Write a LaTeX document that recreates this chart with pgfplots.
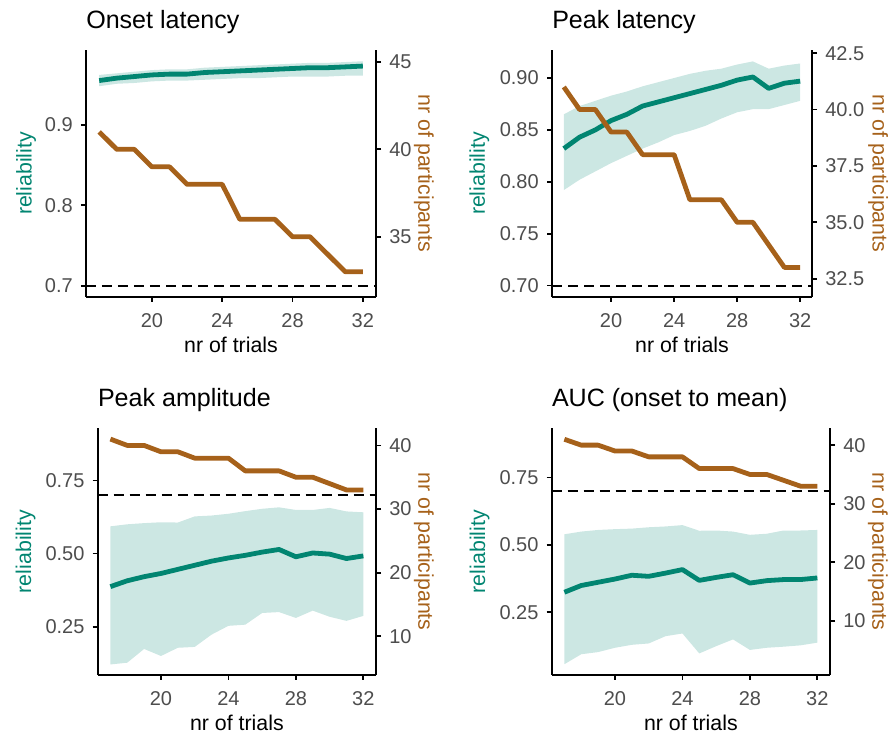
\documentclass[border=0pt]{standalone}
\usepackage{fontspec}
\setmainfont{Liberation Sans}
\usepackage{pgfplots}
\usepackage{pgfplotstable}
\pgfplotsset{compat=1.18}
\definecolor{relgreen}{HTML}{018571}
\definecolor{partorange}{HTML}{A6611A}
\definecolor{ticktext}{HTML}{4D4D4D}
\newcommand\tickfont{\fontsize{15}{15}\selectfont}
\newcommand\labfont{\fontsize{16}{16}\selectfont}
\newcommand\titfont{\fontsize{18.8}{18.8}\selectfont}

% x = nr of trials, rel = reliability, n = nr of participants
\pgfplotstableread{
x rel n
17 0.955 41
18 0.958 40
19 0.960 40
20 0.962 39
21 0.963 39
22 0.963 38
23 0.965 38
24 0.966 38
25 0.967 36
26 0.968 36
27 0.969 36
28 0.970 35
29 0.971 35
30 0.971 34
31 0.972 33
32 0.973 33
}\tabA
\pgfplotstableread{
x rel n
17 0.832 41
18 0.843 40
19 0.850 40
20 0.859 39
21 0.865 39
22 0.873 38
23 0.877 38
24 0.881 38
25 0.885 36
26 0.889 36
27 0.893 36
28 0.898 35
29 0.901 35
30 0.890 34
31 0.895 33
32 0.897 33
}\tabB
\pgfplotstableread{
x rel n
17 0.387 41
18 0.407 40
19 0.421 40
20 0.432 39
21 0.446 39
22 0.460 38
23 0.474 38
24 0.485 38
25 0.494 36
26 0.505 36
27 0.514 36
28 0.489 35
29 0.502 35
30 0.498 34
31 0.483 33
32 0.492 33
}\tabC
\pgfplotstableread{
x rel n
17 0.324 41
18 0.349 40
19 0.361 40
20 0.373 39
21 0.387 39
22 0.383 38
23 0.395 38
24 0.408 38
25 0.368 36
26 0.379 36
27 0.389 36
28 0.358 35
29 0.367 35
30 0.371 34
31 0.371 33
32 0.377 33
}\tabD

\pgfplotsset{
  common/.style={
    scale only axis, enlargelimits=false,
    xmin=16.25, xmax=32.75,
    axis line style={-, black, line width=1.5pt},
    tick style={black, line width=1.3pt},
    major tick length=3.75pt, tick align=outside,
    ticklabel style={font=\tickfont, text=ticktext},
  },
  mainax/.style={
    common, axis x line*=bottom, axis y line*=left,
    xtick={20,24,28,32}, xticklabels={20,24,28,32},
    xticklabel style={anchor=base, yshift=-19.5pt, inner sep=0pt},
    yticklabel style={anchor=east, inner sep=0pt, xshift=-6pt},
    xlabel={nr of trials}, ylabel={reliability},
    every axis title/.style={at={(0,1)}, anchor=base west, yshift=16.1pt, inner sep=0pt, font=\titfont},
    every axis x label/.style={at={(0.5,0)}, anchor=base, yshift=-42pt, inner sep=0pt, font=\labfont},
    every axis y label/.style={at={(0,0.5)}, xshift=-#1, rotate=90, anchor=base, inner sep=0pt, font=\labfont, text=relgreen},
  },
  secax/.style={
    common, axis x line*=bottom, axis y line*=right, xtick=\empty,
    yticklabel style={anchor=west, inner sep=0pt, xshift=6pt},
    ylabel={nr of participants},
    every axis y label/.style={at={(1,0.5)}, xshift=#1, rotate=-90, anchor=base, inner sep=0pt, font=\labfont, text=partorange},
  },
  rib/.style={fill=relgreen, fill opacity=0.2, draw=none},
  relline/.style={relgreen, line width=3.6pt, line join=round},
  nline/.style={partorange, line width=3.6pt, line join=round},
  hline/.style={black, line width=1.4pt, dash pattern=on 7.5pt off 4.5pt},
}

\begin{document}
\begin{tikzpicture}
\useasboundingbox (0,0) rectangle (667.5pt,551.25pt);

% ---------- Panel 1: Onset latency ----------
\begin{axis}[mainax=40.7pt, at={(64.5pt,328.5pt)}, width=217.5pt, height=185.25pt,
  ymin=0.686, ymax=0.993, ytick={0.7,0.8,0.9}, yticklabels={0.7,0.8,0.9},
  title={Onset latency}]
  \addplot[rib] coordinates {
    (17,0.962) (18,0.964) (19,0.966) (20,0.968) (21,0.969) (22,0.969) (23,0.971) (24,0.972)
    (25,0.973) (26,0.974) (27,0.975) (28,0.976) (29,0.977) (30,0.977) (31,0.978) (32,0.979)
    (32,0.961) (31,0.961) (30,0.960) (29,0.960) (28,0.960) (27,0.959) (26,0.958) (25,0.958)
    (24,0.957) (23,0.956) (22,0.955) (21,0.955) (20,0.954) (19,0.952) (18,0.951) (17,0.948)} -- cycle;
  \addplot[relline] table[x=x, y=rel] {\tabA};
  \addplot[hline] coordinates {(16.25,0.7) (32.75,0.7)};
\end{axis}
\begin{axis}[secax=31.7pt, at={(64.5pt,328.5pt)}, width=217.5pt, height=185.25pt,
  ymin=31.56, ymax=45.68, ytick={35,40,45}, yticklabels={35,40,45}]
  \addplot[nline] table[x=x, y=n] {\tabA};
\end{axis}

% ---------- Panel 2: Peak latency ----------
\begin{axis}[mainax=50.3pt, at={(414pt,328.5pt)}, width=195pt, height=185.25pt,
  ymin=0.689, ymax=0.927, ytick={0.70,0.75,0.80,0.85,0.90},
  yticklabels={0.70,0.75,0.80,0.85,0.90},
  title={Peak latency}]
  \addplot[rib] coordinates {
    (17,0.865) (18,0.873) (19,0.878) (20,0.883) (21,0.887) (22,0.892) (23,0.896) (24,0.900)
    (25,0.904) (26,0.907) (27,0.909) (28,0.913) (29,0.916) (30,0.909) (31,0.912) (32,0.914)
    (32,0.878) (31,0.874) (30,0.870) (29,0.870) (28,0.867) (27,0.861) (26,0.854) (25,0.849)
    (24,0.845) (23,0.838) (22,0.832) (21,0.825) (20,0.818) (19,0.810) (18,0.802) (17,0.792)} -- cycle;
  \addplot[relline] table[x=x, y=rel] {\tabB};
  \addplot[hline] coordinates {(16.25,0.7) (32.75,0.7)};
\end{axis}
\begin{axis}[secax=45.5pt, at={(414pt,328.5pt)}, width=195pt, height=185.25pt,
  ymin=31.69, ymax=42.64, ytick={32.5,35,37.5,40,42.5},
  yticklabels={32.5,35.0,37.5,40.0,42.5}]
  \addplot[nline] table[x=x, y=n] {\tabB};
\end{axis}

% ---------- Panel 3: Peak amplitude ----------
\begin{axis}[mainax=50pt, at={(73.3pt,45pt)}, width=208.7pt, height=185pt,
  ymin=0.085, ymax=0.928, ytick={0.25,0.50,0.75}, yticklabels={0.25,0.50,0.75},
  title={Peak amplitude}]
  \addplot[rib] coordinates {
    (17,0.593) (18,0.600) (19,0.604) (20,0.607) (21,0.606) (22,0.627) (23,0.630) (24,0.636)
    (25,0.645) (26,0.653) (27,0.658) (28,0.649) (29,0.649) (30,0.656) (31,0.644) (32,0.641)
    (32,0.287) (31,0.270) (30,0.284) (29,0.305) (28,0.280) (27,0.300) (26,0.297) (25,0.257)
    (24,0.253) (23,0.223) (22,0.181) (21,0.178) (20,0.150) (19,0.174) (18,0.127) (17,0.121)} -- cycle;
  \addplot[relline] table[x=x, y=rel] {\tabC};
  \addplot[hline] coordinates {(16.25,0.7) (32.75,0.7)};
\end{axis}
\begin{axis}[secax=31.7pt, at={(73.3pt,45pt)}, width=208.7pt, height=185pt,
  ymin=3.91, ymax=42.69, ytick={10,20,30,40}, yticklabels={10,20,30,40}]
  \addplot[nline] table[x=x, y=n] {\tabC};
\end{axis}

% ---------- Panel 4: AUC (onset to mean) ----------
\begin{axis}[mainax=50pt, at={(413.8pt,45pt)}, width=208.7pt, height=185pt,
  ymin=0.017, ymax=0.932, ytick={0.25,0.50,0.75}, yticklabels={0.25,0.50,0.75},
  title={AUC (onset to mean)}]
  \addplot[rib] coordinates {
    (17,0.539) (18,0.549) (19,0.555) (20,0.558) (21,0.560) (22,0.565) (23,0.568) (24,0.573)
    (25,0.552) (26,0.553) (27,0.549) (28,0.537) (29,0.541) (30,0.553) (31,0.553) (32,0.555)
    (32,0.137) (31,0.127) (30,0.122) (29,0.118) (28,0.110) (27,0.149) (26,0.124) (25,0.097)
    (24,0.171) (23,0.161) (22,0.134) (21,0.129) (20,0.118) (19,0.102) (18,0.094) (17,0.057)} -- cycle;
  \addplot[relline] table[x=x, y=rel] {\tabD};
  \addplot[hline] coordinates {(16.25,0.7) (32.75,0.7)};
\end{axis}
\begin{axis}[secax=31.7pt, at={(413.8pt,45pt)}, width=208.7pt, height=185pt,
  ymin=0.78, ymax=42.87, ytick={10,20,30,40}, yticklabels={10,20,30,40}]
  \addplot[nline] table[x=x, y=n] {\tabD};
\end{axis}
\end{tikzpicture}
\end{document}
